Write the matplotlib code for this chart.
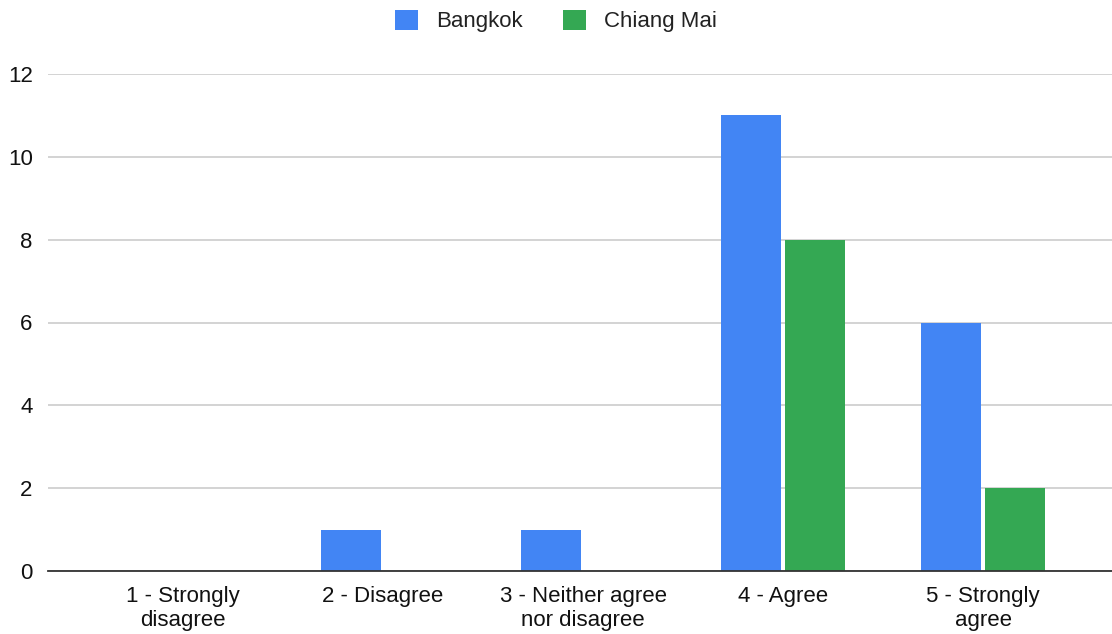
import numpy as np
import matplotlib.pyplot as plt

plt.rcParams['font.family'] = ['Liberation Sans', 'DejaVu Sans']

categories = ["1 - Strongly\ndisagree", "2 - Disagree", "3 - Neither agree\nnor disagree",
              "4 - Agree", "5 - Strongly\nagree"]
bangkok = [0, 1, 1, 11, 6]
chiang_mai = [0, 0, 0, 8, 2]
yticks = [0, 2, 4, 6, 8, 10, 12]

fig = plt.figure(figsize=(11.12, 6.34), dpi=100)
ax = fig.add_axes([48 / 1112, 1 - 571 / 634, 1 - 48 / 1112, (571 - 74) / 634])

x = np.arange(len(categories))
w = 0.3
ax.bar(x - 0.16, bangkok, w, color='#4285F4', label='Bangkok', zorder=3)
ax.bar(x + 0.16, chiang_mai, w, color='#34A853', label='Chiang Mai', zorder=3)

ax.set_xlim(-0.675, 4.645)
ax.set_ylim(0, 12)
ax.set_yticks(yticks)
ax.set_xticks(x)
ax.set_xticklabels(categories, fontsize=16, color='#111111', linespacing=1.2)
ax.tick_params(axis='y', length=0, pad=11, labelsize=16, labelcolor='#111111')
ax.tick_params(axis='x', length=0, pad=11)
ax.grid(axis='y', color='#cccccc', linewidth=1.2, zorder=0)
for s in ['top', 'right', 'left']:
    ax.spines[s].set_visible(False)
ax.spines['bottom'].set_color('#333333')
ax.spines['bottom'].set_linewidth(1.3)
ax.spines['bottom'].set_zorder(4)

leg = fig.legend(loc='center', bbox_to_anchor=(0.5, 1 - 21 / 634), ncol=2, frameon=False,
                 fontsize=16, handlelength=1.05, handleheight=1.05, columnspacing=1.8,
                 handletextpad=0.8)
for t in leg.get_texts():
    t.set_color('#222222')

fig.savefig('out.png', dpi=100)
